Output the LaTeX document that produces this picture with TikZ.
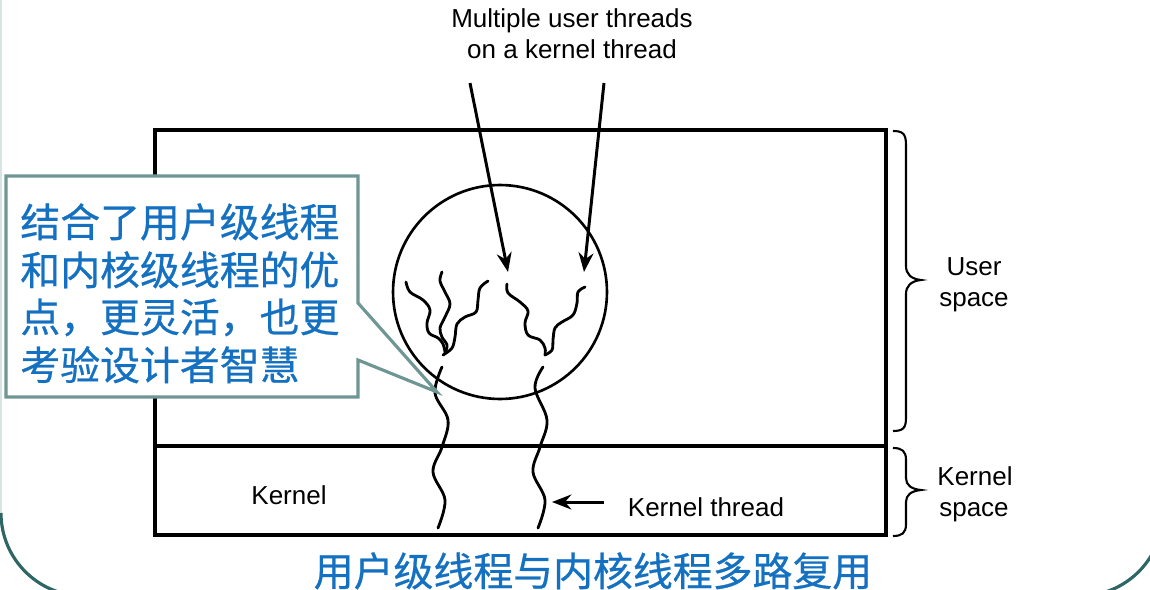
\documentclass[tikz,border=0pt]{standalone}
\usepackage{fontspec}
\setmainfont{Liberation Sans}
\newfontfamily\cjk[FakeBold=0.6]{Noto Sans CJK SC}
\usetikzlibrary{arrows.meta}
\definecolor{cblue}{RGB}{20,112,192}
\definecolor{callcol}{RGB}{110,150,148}
\definecolor{framecol}{RGB}{45,102,100}
\definecolor{framefaint}{RGB}{215,228,228}
\begin{document}
\begin{tikzpicture}[x=0.02cm,y=-0.02cm,
  boxline/.style={line width=1.8pt},
  thread/.style={line width=1.6pt, line cap=round},
  ptr/.style={line width=1.7pt, -{Stealth[length=11pt,width=8.5pt]}},
  lbl/.style={font=\fontsize{14.8pt}{18pt}\selectfont, inner sep=0pt, anchor=base},
  cjkline/.style={font=\cjk\fontsize{22.7pt}{27pt}\selectfont, text=cblue, inner sep=0pt, anchor=base west},
  brace/.style={line width=1.2pt}]
\useasboundingbox (0,0) rectangle (1150,589);
\begin{scope}
\clip (0,0) rectangle (1150,589);
\draw[framefaint, line width=1.2pt] (1,0) -- (1,513);
\draw[framecol, line width=1.8pt] (1,513) .. controls (1,558.8) and (38.2,596) .. (84,596) -- (1080,596)
   .. controls (1125.8,596) and (1163,558.8) .. (1163,513);
\end{scope}
% main box
\draw[boxline] (155,130) rectangle (886,535);
\draw[boxline] (155,446) -- (886,446);
% process circle
\node[draw, circle, line width=1.5pt, minimum size=4.28cm, inner sep=0pt] (proc) at (500,292) {};
% user threads, left group
\draw[thread] plot[smooth, tension=0.6] coordinates {(406,282) (410,292) (423,300) (430,310) (427,323) (429,333) (438,338) (443,344) (445,352)};
\draw[thread] plot[smooth, tension=0.6] coordinates {(442,272) (440,281) (445,292) (450,304) (445,317) (440,328) (442,337) (447,345) (445,353)};
\draw[thread] plot[smooth, tension=0.6] coordinates {(488,281) (480,288) (478,300) (476,312) (465,317) (457,324) (455,337) (452,348) (443,355)};
% user threads, right group
\draw[thread] plot[smooth, tension=0.6] coordinates {(507,284) (508,293) (520,302) (528,311) (525,323) (528,335) (540,340) (545,348) (545,355)};
\draw[thread] plot[smooth, tension=0.6] coordinates {(585,287) (578,292) (577,303) (573,315) (562,322) (555,328) (553,340) (552,350) (545,355)};
% kernel threads
\draw[thread] plot[smooth, tension=0.6] coordinates {(442,367) (435,393) (448,420) (442,447) (433,472) (445,500) (438,528)};
\draw[thread] plot[smooth, tension=0.6] coordinates {(543,367) (535,388) (547,420) (540,447) (533,472) (545,500) (538,528)};
% arrows
\coordinate (a1s) at (470,83); \coordinate (a1e) at (508,272);
\coordinate (a2s) at (604,83); \coordinate (a2e) at (584,272);
\coordinate (kts) at (604,502); \coordinate (kte) at (552,502);
\draw[ptr] (a1s) -- (a1e);
\draw[ptr] (a2s) -- (a2e);
\draw[ptr] (kts) -- (kte);
% braces
\draw[brace] (893,131) .. controls (903,131) and (906,134) .. (906,145) -- (906,266)
  .. controls (906,274) and (911,279) .. (921,280) .. controls (911,281) and (906,286) .. (906,294)
  -- (906,418) .. controls (906,428) and (903,431) .. (893,431);
\draw[brace] (893,448) .. controls (902,448) and (906,451) .. (906,460) -- (906,478)
  .. controls (906,485) and (911,489) .. (921,490) .. controls (911,491) and (906,495) .. (906,502)
  -- (906,524) .. controls (906,533) and (902,536) .. (893,536);
% labels
\node[lbl] (mu1) at (572,27) {Multiple user threads};
\node[lbl] (mu2) at (572,58) {on a kernel thread};
\node[lbl] (us1) at (974,275) {User};
\node[lbl] (us2) at (974,306) {space};
\node[lbl] (ks1) at (975,485) {Kernel};
\node[lbl] (ks2) at (974,516) {space};
\node[lbl] (kern) at (289,504) {Kernel};
\node[lbl] (kthr) at (706,516) {Kernel thread};
% callout
\draw[callcol, fill=white, line width=1.8pt, line join=miter]
  (6,176) -- (358,176) -- (358,303) -- (437,392) -- (358,360) -- (358,397) -- (6,397) -- cycle;
\node[cjkline] (c1) at (20,237) {结合了用户级线程};
\node[cjkline] (c2) at (20,285) {和内核级线程的优};
\node[cjkline] (c3) at (20,332) {点，更灵活，也更};
\node[cjkline] (c4) at (20,380) {考验设计者智慧};
% caption
\node[font=\cjk\fontsize{22.7pt}{27pt}\selectfont, text=cblue, inner sep=0pt, anchor=base] (cap) at (593,586) {用户级线程与内核线程多路复用};
\end{tikzpicture}
\end{document}
